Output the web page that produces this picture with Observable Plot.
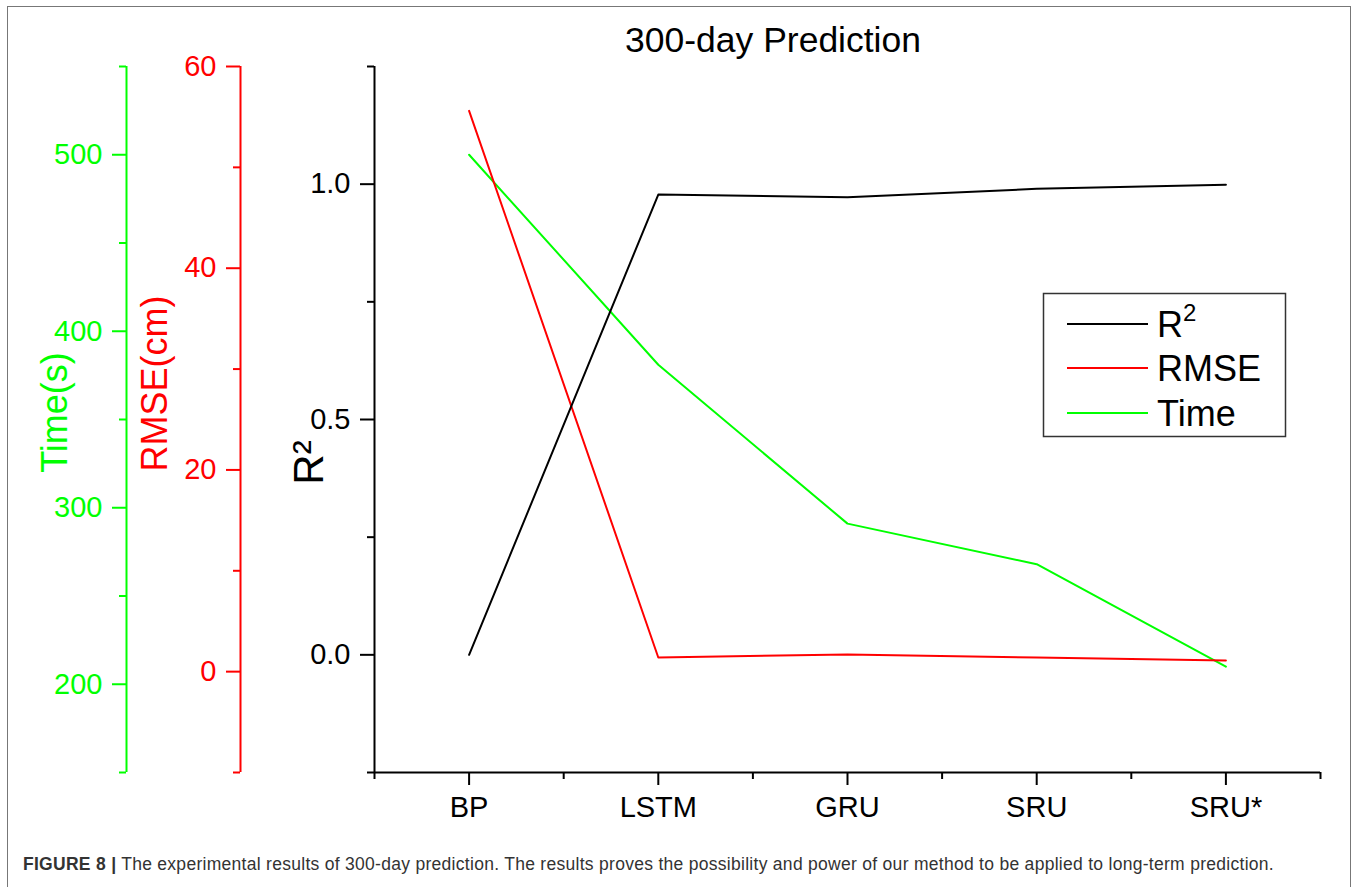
<!DOCTYPE html>
<html>
<head>
<meta charset="utf-8">
<script src="https://cdn.jsdelivr.net/npm/d3@7"></script>
<script src="https://cdn.jsdelivr.net/npm/@observablehq/plot@0.6"></script>
<style>
  body { margin: 0; background: #fff; overflow: hidden; font-family: "Liberation Sans", Arial, sans-serif; }
  #wrap { position: relative; width: 1357px; height: 887px; overflow: hidden; background: #fff; }
  #box { position: absolute; left: 7px; top: 6px; width: 1344px; height: 900px; border: 1.5px solid #777; box-sizing: border-box; }
  .layer { position: absolute; left: 0; top: 0; }
  #caption { position: absolute; left: 23px; top: 856px; white-space: nowrap; color: #333; font-size: 17.5px; line-height: 1; display: inline-block; }
  #caption b { font-weight: bold; }
</style>
</head>
<body>
<div id="wrap">
  <div id="box"></div>
  <div id="caption"><b>FIGURE 8 |</b> The experimental results of 300-day prediction. The results proves the possibility and power of our method to be applied to long-term prediction.</div>
</div>
<script>
// ---- data ----
const models = ["BP", "LSTM", "GRU", "SRU", "SRU*"];
const r2Values = [0.0, 0.978, 0.972, 0.990, 0.999];
const rmseValues = [55.6, 1.4, 1.7, 1.4, 1.1];
const timeValues = [500, 381, 291, 268, 210];

const r2Ticks = [0, 0.5, 1.0];
const r2Minor = [-0.25, 0.25, 0.75, 1.25];
const rmseTicks = [0, 20, 40, 60];
const rmseMinor = [-10, 10, 30, 50];
const timeTicks = [200, 300, 400, 500];
const timeMinor = [150, 250, 350, 450, 550];

const titleText = "300-day Prediction";
const seriesNames = ["R", "RMSE", "Time"];

// ---- table ----
const rows = models.map((m, i) => ({ model: m, i, r2: r2Values[i], rmse: rmseValues[i], time: timeValues[i] }));

const W = 1357, H = 887;
const TOP = 66, BOTTOM = 772, XL = 374, XR = 1320;
const FONT = "'Liberation Sans', Arial, sans-serif";
const TICKFS = 29;
const wrap = document.getElementById("wrap");

function makePlot({ marginLeft, yDomain, color, marks, xAxis }) {
  const p = Plot.plot({
    width: W, height: H,
    marginLeft, marginTop: TOP, marginBottom: H - BOTTOM, marginRight: W - XR,
    x: { domain: [-0.5, 4.5], range: [XL, XR], axis: xAxis ? undefined : null, label: null },
    y: { domain: yDomain, label: null },
    style: { background: "transparent", color, fontFamily: FONT, overflow: "visible" },
    marks
  });
  p.classList.add("layer");
  p.style.position = "absolute";
  p.style.left = "0px";
  p.style.top = "0px";
  p.style.maxWidth = "none";
  wrap.appendChild(p);
  return p;
}

function sideAxis(marginLeft, ticks, minor, fmt, label, labelDx, labelDy, labelSize) {
  const off = marginLeft - XL;
  return [
    Plot.ruleX([-0.5], { dx: off, strokeWidth: 2 }),
    Plot.axisY({ ticks, tickSize: 14, tickPadding: 10, tickFormat: fmt, fontSize: TICKFS, strokeWidth: 2, label: null }),
    Plot.axisY({ ticks: minor, tickSize: 7, tickFormat: () => "", strokeWidth: 2, label: null }),
    Plot.text([label], { frameAnchor: "left", rotate: -90, dx: labelDx, dy: labelDy, fontSize: labelSize, lineAnchor: "bottom", textAnchor: "middle", fill: "currentColor" })
  ];
}

// Time axis (green)
makePlot({
  marginLeft: 126, yDomain: [150, 550], color: "#00ff00",
  marks: [
    ...sideAxis(126, timeTicks, timeMinor, d3.format("d"), "Time(s)", -60, -7, 36),
    Plot.line(rows, { x: "i", y: "time", stroke: "#00ff00", strokeWidth: 2 })
  ]
});

// RMSE axis (red)
makePlot({
  marginLeft: 240, yDomain: [-10, 60], color: "#ff0000",
  marks: [
    ...sideAxis(240, rmseTicks, rmseMinor, d3.format("d"), "RMSE(cm)", -74, -36, 36),
    Plot.line(rows, { x: "i", y: "rmse", stroke: "#ff0000", strokeWidth: 2 })
  ]
});

// R² main axis (black)
makePlot({
  marginLeft: XL, yDomain: [-0.25, 1.25], color: "#000", xAxis: true,
  marks: [
    ...sideAxis(XL, r2Ticks, r2Minor, d3.format(".1f"), "R²", -52, 43, 42),
    Plot.ruleY([-0.25], { strokeWidth: 2 }),
    Plot.axisX({ ticks: [0, 1, 2, 3, 4], tickFormat: i => models[i], tickSize: 13, tickPadding: 11, fontSize: TICKFS, strokeWidth: 2, label: null }),
    Plot.axisX({ ticks: [-0.5, 0.5, 1.5, 2.5, 3.5, 4.5], tickSize: 7, tickFormat: () => "", strokeWidth: 2, label: null }),
    Plot.line(rows, { x: "i", y: "r2", stroke: "#000", strokeWidth: 2 })
  ]
});

// ---- overlay: title + legend ----
const svg = d3.select(wrap).append("svg")
  .attr("class", "layer").attr("width", W).attr("height", H)
  .style("position", "absolute").style("left", 0).style("top", 0)
  .style("font-family", FONT);

svg.append("text").attr("x", 773).attr("y", 52).attr("text-anchor", "middle")
  .attr("font-size", 35.5).attr("fill", "#000").text(titleText);

const lg = svg.append("g");
lg.append("rect").attr("x", 1043.5).attr("y", 293.5).attr("width", 242).attr("height", 143)
  .attr("fill", "#fff").attr("stroke", "#333").attr("stroke-width", 1.5);
const legendItems = [
  { name: seriesNames[0], sup: "2", color: "#000", y: 324 },
  { name: seriesNames[1], color: "#ff0000", y: 368 },
  { name: seriesNames[2], color: "#00ff00", y: 413 }
];
legendItems.forEach(d => {
  lg.append("line").attr("x1", 1067).attr("x2", 1148).attr("y1", d.y).attr("y2", d.y)
    .attr("stroke", d.color).attr("stroke-width", 2);
  const t = lg.append("text").attr("x", 1157).attr("y", d.y + 13).attr("font-size", 36).attr("fill", "#000");
  t.append("tspan").text(d.name);
  if (d.sup) t.append("tspan").attr("dy", -16).attr("font-size", 24).text(d.sup);
});

// ---- caption fit (keep size, tighten spacing to match width) ----
const cap = document.getElementById("caption");
const fs = 17.5;
const w0 = cap.getBoundingClientRect().width;
const nChars = cap.textContent.length;
cap.style.letterSpacing = ((1251 - w0) / nChars) + "px";
cap.style.top = (871 - 0.8465 * fs) + "px";
</script>
</body>
</html>
